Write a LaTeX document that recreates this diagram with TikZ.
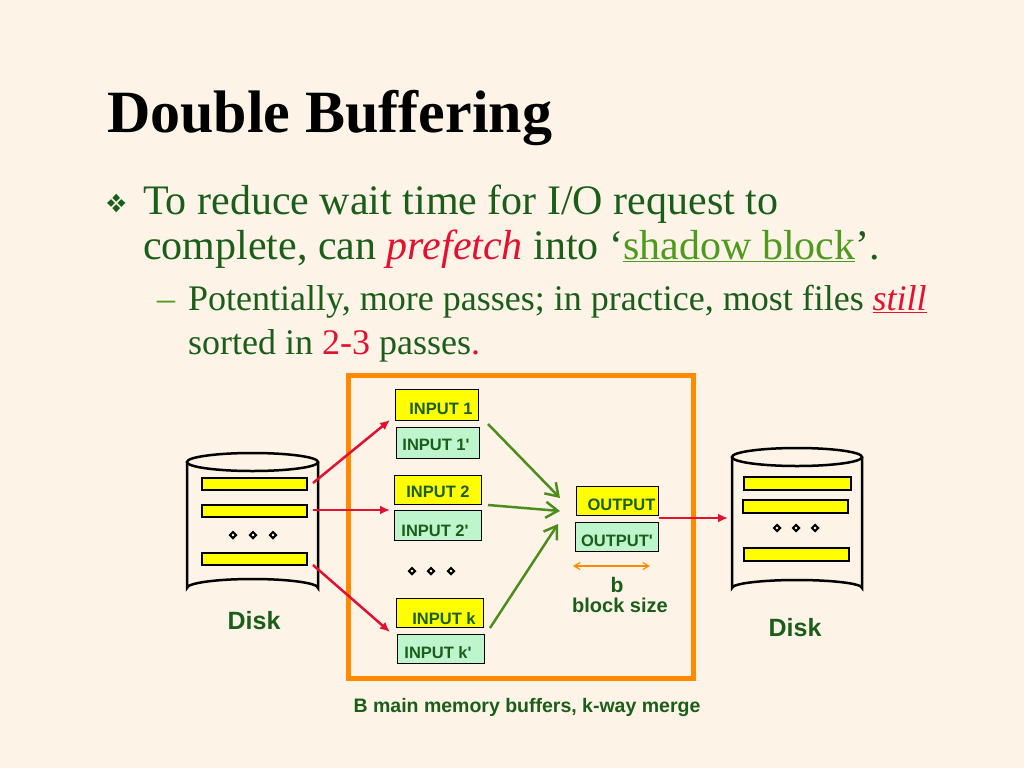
\documentclass[tikz,border=0pt]{standalone}
\usepackage{fontspec}
\setmainfont{Liberation Serif}
\newfontfamily\sansf{Liberation Sans}
\usepackage{pifont}
\usetikzlibrary{arrows.meta,shapes.geometric}
\definecolor{bg}{HTML}{FDF3E6}
\definecolor{dg}{HTML}{1A5E1A}
\definecolor{rd}{HTML}{E3102F}
\definecolor{og}{HTML}{4E9A1E}
\definecolor{yel}{HTML}{FFFF00}
\definecolor{lg}{HTML}{BFF5CC}
\definecolor{orng}{HTML}{FF8A00}
\definecolor{arrg}{HTML}{4E8C1E}
\begin{document}
\begin{tikzpicture}[x=1pt,y=-1pt,
  ybox/.style={draw=black,line width=1pt,fill=yel,anchor=north west,inner sep=0pt},
  gbox/.style={draw=black,line width=1pt,fill=lg,anchor=north west,inner sep=0pt},
  lab/.style={font=\sansf\bfseries\fontsize{16.5}{18}\selectfont,text=dg},
  bar/.style={draw=black,line width=2.5pt,fill=yel},
  rarr/.style={draw=rd,line width=2.5pt,-{Latex[length=10pt,width=9pt]}},
  garr/.style={draw=arrg,line width=2.5pt,-{Straight Barb[length=12pt,width=16pt]}},
  dot/.style={draw=black,line width=2pt,fill=white,inner sep=0pt,minimum size=7pt,diamond},
  txt/.style={text=dg,anchor=west,inner sep=0pt}]
\fill[bg] (0,0) rectangle (1024,768);
\node[anchor=base west,inner sep=0pt,font=\bfseries\fontsize{60}{64}\selectfont] (title) at (107,132) {Double Buffering};
\node[txt,font=\fontsize{26}{28}\selectfont] (bul) at (106,203) {\textcolor{dg}{\ding{118}}};
\node[txt,anchor=base west,font=\fontsize{42}{46}\selectfont] (l1) at (143,214) {To reduce wait time for I/O request to};
\node[txt,anchor=base west,font=\fontsize{42}{46}\selectfont] (l2) at (143,259) {complete, can \textcolor{rd}{\itshape prefetch} into `\textcolor{og}{\underline{shadow block}}'.};
\node[txt,anchor=base west,font=\fontsize{36}{40}\selectfont] (d1) at (157,310) {\textcolor{og}{--}};
\node[txt,anchor=base west,font=\fontsize{36}{40}\selectfont] (l3) at (188,310) {Potentially, more passes; in practice, most files \textcolor{rd}{\itshape\underline{still}}};
\node[txt,anchor=base west,font=\fontsize{36}{40}\selectfont] (l4) at (188,354) {sorted in \textcolor{rd}{2-3} passes\textcolor{rd}{.}};
% memory box
\draw[orng,line width=5pt] (348,375) rectangle (693,678);
% left disk
\draw[line width=2.5pt,fill=bg] (187,462) -- (187,588) arc[start angle=180,end angle=360,x radius=65.5,y radius=9] -- (318,462);
\draw[line width=2.5pt,fill=bg] (252.5,462) ellipse[x radius=65.5,y radius=9];
\draw[bar] (202,478) rectangle (307,490);
\draw[bar] (202,505) rectangle (307,517);
\draw[bar] (202,553) rectangle (307,565);
\node[dot] (ld1) at (233,535) {};\node[dot] (ld2) at (253,535) {};\node[dot] (ld3) at (273,535) {};
\node[font=\sansf\bfseries\fontsize{25}{28}\selectfont,text=dg] (disk1) at (254,621) {Disk};
% right disk
\draw[line width=2.5pt,fill=bg] (732,457) -- (732,588) arc[start angle=180,end angle=360,x radius=65,y radius=8] -- (862,457);
\draw[line width=2.5pt,fill=bg] (797,457) ellipse[x radius=65,y radius=9];
\draw[bar] (744,477) rectangle (851,490);
\draw[bar] (743,500) rectangle (848,513);
\draw[bar] (744,548) rectangle (849,561);
\node[dot] (rd1) at (777,528) {};\node[dot] (rd2) at (796,528) {};\node[dot] (rd3) at (815,528) {};
\node[font=\sansf\bfseries\fontsize{25}{28}\selectfont,text=dg] (disk2) at (795,628) {Disk};
% buffers
\node[ybox,minimum width=83pt,minimum height=31pt] (i1) at (395,389) {};
\node[lab] at ([xshift=4pt,yshift=-4pt]i1.center) {INPUT 1};
\node[gbox,minimum width=83pt,minimum height=31pt] (i1p) at (396,427) {};
\node[lab] at ([xshift=-2pt,yshift=-2pt]i1p.center) {INPUT 1'};
\node[ybox,minimum width=87pt,minimum height=29pt] (i2) at (394,475) {};
\node[lab] at ([xshift=0pt,yshift=-2pt]i2.center) {INPUT 2};
\node[gbox,minimum width=87pt,minimum height=30pt] (i2p) at (394,510) {};
\node[lab] at ([xshift=-3pt,yshift=-5pt]i2p.center) {INPUT 2'};
\node[ybox,minimum width=87pt,minimum height=29pt] (ik) at (396,598) {};
\node[lab] at ([xshift=4pt,yshift=-6pt]ik.center) {INPUT k};
\node[gbox,minimum width=87pt,minimum height=29pt] (ikp) at (397,634) {};
\node[lab] at ([xshift=-3pt,yshift=-4pt]ikp.center) {INPUT k'};
\node[ybox,minimum width=82pt,minimum height=29pt] (o) at (576,486) {};
\node[lab] at ([xshift=4pt,yshift=-4pt]o.center) {OUTPUT};
\node[gbox,minimum width=83pt,minimum height=29pt] (op) at (575,522) {};
\node[lab] at ([xshift=0pt,yshift=-4pt]op.center) {OUTPUT'};
\node[dot] (md1) at (412,571) {};\node[dot] (md2) at (431,571) {};\node[dot] (md3) at (451,571) {};
% arrows
\coordinate (s1) at (313,483); \coordinate (s2) at (313,510); \coordinate (s3) at (313,565);
\coordinate (t1) at (390,420); \coordinate (t2) at (390,510); \coordinate (t3) at (390,632);
\draw[rarr] (s1) -- (t1);
\draw[rarr] (s2) -- (t2);
\draw[rarr] (s3) -- (t3);
\coordinate (os) at (659,518); \coordinate (ot) at (728,518);
\draw[rarr] (os) -- (ot);
\coordinate (g1) at (488,424); \coordinate (g2) at (488,505); \coordinate (g3) at (490,628);
\coordinate (m1) at (560,498); \coordinate (m2) at (560,511); \coordinate (m3) at (558,524);
\draw[garr] (g1) -- (m1);
\draw[garr] (g2) -- (m2);
\draw[garr] (g3) -- (m3);
\coordinate (ba) at (573,566); \coordinate (bb) at (650,566);
\draw[orng,line width=1.2pt,{Straight Barb[length=6pt,width=7pt]}-{Straight Barb[length=6pt,width=7pt]}] (ba) -- (bb);
\node[font=\sansf\bfseries\fontsize{21}{23}\selectfont,text=dg] (b) at (617,585) {b};
\node[font=\sansf\bfseries\fontsize{20}{22}\selectfont,text=dg] (bs) at (620,605) {block size};
\node[font=\sansf\bfseries\fontsize{19.5}{22}\selectfont,text=dg] (cap) at (527,707) {B main memory buffers, k-way merge};
\end{tikzpicture}
\end{document}
